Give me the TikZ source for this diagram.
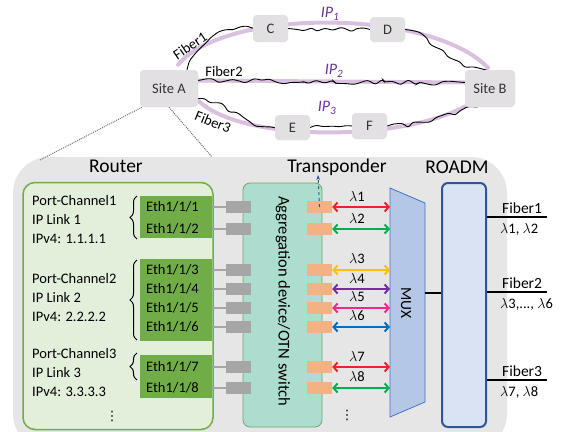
\documentclass[tikz,border=0pt]{standalone}
\usepackage{fontspec}
\setmainfont{Carlito}
\newfontfamily\symfont{DejaVu Sans}
\usetikzlibrary{arrows.meta,decorations.pathmorphing,decorations.pathreplacing}
\definecolor{bggray}{RGB}{231,230,231}
\definecolor{sitegray}{RGB}{226,224,226}
\definecolor{iplav}{RGB}{216,192,222}
\definecolor{ippurple}{RGB}{112,48,160}
\definecolor{rtfill}{RGB}{226,239,218}
\definecolor{rtgreen}{RGB}{112,173,71}
\definecolor{aggfill}{RGB}{172,221,206}
\definecolor{aggline}{RGB}{112,168,100}
\definecolor{portgray}{RGB}{166,166,166}
\definecolor{trorange}{RGB}{244,177,131}
\definecolor{muxfill}{RGB}{180,199,231}
\definecolor{muxline}{RGB}{68,114,196}
\definecolor{rdfill}{RGB}{218,227,243}
\definecolor{rdline}{RGB}{47,85,151}
\definecolor{lred}{RGB}{238,34,40}
\definecolor{lgreen}{RGB}{0,176,80}
\definecolor{lyellow}{RGB}{255,192,0}
\definecolor{lpurple}{RGB}{112,48,160}
\definecolor{lpink}{RGB}{240,40,140}
\definecolor{lblue}{RGB}{0,112,192}
\begin{document}
\begin{tikzpicture}[x=1pt,y=-1pt,
  txt/.style={font=\fontsize{14.5}{19}\selectfont},
  head/.style={font=\fontsize{19.5}{22}\selectfont},
  site/.style={fill=sitegray,rounded corners=4pt,text=black!80,font=\fontsize{14.5}{17}\selectfont},
  fib/.style={draw=black,line width=0.9pt,decorate,decoration={random steps,segment length=7pt,amplitude=3pt},rounded corners=2.5pt},
  iplink/.style={draw=iplav,line width=4pt,line cap=round},
  iplbl/.style={text=ippurple,font=\fontsize{16}{18}\selectfont\itshape},
  ethbox/.style={fill=rtgreen,minimum width=72pt},
  port/.style={fill=portgray,minimum width=25pt,minimum height=12pt},
  portline/.style={draw=portgray,line width=2pt},
  trx/.style={fill=trorange,minimum width=25pt,minimum height=12pt},
  lam/.style={line width=2pt,{Straight Barb[length=4pt,width=9pt]}-{Straight Barb[length=4pt,width=9pt]}},
  pcbrace/.style={decorate,decoration={brace,amplitude=7pt},line width=1pt},
  vdot/.style={font=\symfont\fontsize{13}{14}\selectfont}]
\tikzstyle{every node}+=[inner sep=0pt]
\pgfmathsetseed{11}
\useasboundingbox (0,0) rectangle (564,431);
\clip (0,0) rectangle (564,431);

\node[site,minimum width=58pt,minimum height=37pt] (siteA) at (169,88.5) {Site A};
\node[site,minimum width=50pt,minimum height=37pt] (siteB) at (490,88.5) {Site B};
\path[iplink] ([shift={(9pt,5pt)}]siteA.north) .. controls (225,8) and (430,8) .. ([shift={(-2pt,2pt)}]siteB.north);
\path[iplink] ([yshift=8pt]siteA.east) -- ([yshift=6pt]siteB.west);
\path[iplink] ([yshift=-12pt]siteA.east) .. controls (240,142) and (400,142) .. ([yshift=-18pt]siteB.west);
\node[site,minimum width=35pt,minimum height=27pt] (C) at (270.5,28.5) {C};
\node[site,minimum width=35pt,minimum height=25pt] (D) at (387.5,29.5) {D};
\node[site,minimum width=35pt,minimum height=25pt] (E) at (292.5,127.5) {E};
\node[site,minimum width=35pt,minimum height=26pt] (F) at (369.5,126) {F};
\draw[fib] ([xshift=18pt]siteA.north) .. controls (195,40) and (225,28) .. (C.west);
\draw[fib] (C.east) -- (D.west);
\draw[fib] (D.east) .. controls (435,35) and (440,65) .. ([xshift=-3pt]siteB.north);
\draw[fib] ([yshift=8pt]siteA.east) -- ([yshift=6pt]siteB.west);
\draw[fib] ([yshift=-10pt]siteA.east) .. controls (230,105) and (250,127) .. (E.west);
\draw[fib] (E.east) -- (F.west);
\draw[fib] (F.east) .. controls (420,127) and (450,112) .. ([xshift=-12pt]siteB.south);
\node[site,minimum width=58pt,minimum height=37pt] at (siteA) {Site A};
\node[site,minimum width=50pt,minimum height=37pt] at (siteB) {Site B};
\node[site,minimum width=35pt,minimum height=27pt] at (C) {C};
\node[site,minimum width=35pt,minimum height=25pt] at (D) {D};
\node[site,minimum width=35pt,minimum height=25pt] at (E) {E};
\node[site,minimum width=35pt,minimum height=26pt] at (F) {F};
\node[iplbl] (ip1) at (330,14) {IP\textsubscript{1}};
\node[iplbl] (ip2) at (334,71) {IP\textsubscript{2}};
\node[iplbl] (ip3) at (327,108) {IP\textsubscript{3}};
\node[txt,rotate=34] (fb1) at (190,46) {Fiber1};
\node[txt] (fb2) at (224,72) {Fiber2};
\node[txt,rotate=-22] (fb3) at (213,122) {Fiber3};

\fill[bggray,rounded corners=36pt] (13,450) -- (13,157) -- (507,157) -- (507,450) -- cycle;
\coordinate (dA) at (40,160);
\coordinate (dB) at (212,157);
\draw[densely dotted,black!55,line width=1pt] ([xshift=-27pt]siteA.south) -- (dA);
\draw[densely dotted,black!55,line width=1pt] (siteA.south) -- (dB);

\node[head] (rtlbl) at (116,166) {Router};
\node[head] (tplbl) at (337,167) {Transponder};
\node[head] (rdlbl) at (457,167) {ROADM};
\node[draw=rtgreen,fill=rtfill,line width=1.5pt,rounded corners=12pt,minimum width=190pt,minimum height=247pt] (router) at (118,306) {};
\node[ethbox,minimum height=42pt] (ethA) at (176,217) {};
\node[ethbox,minimum height=82pt] (ethB) at (176,300) {};
\node[ethbox,minimum height=43pt] (ethC) at (176,376.5) {};
\node[txt,anchor=west,align=left] (pc1) at (32,220) {Port-Channel1\\IP Link 1\\IPv4: 1.1.1.1};
\node[txt,anchor=west,align=left] (pc2) at (32,298) {Port-Channel2\\IP Link 2\\IPv4: 2.2.2.2};
\node[txt,anchor=west,align=left] (pc3) at (32,373) {Port-Channel3\\IP Link 3\\IPv4: 3.3.3.3};
\draw[pcbrace] (137,239) -- (137,196);
\draw[pcbrace] (137,340) -- (137,260);
\draw[pcbrace] (137,380) -- (137,353);
\node[vdot] (dots1) at (112,416) {⋮};

\node[draw=aggline,fill=aggfill,line width=0.8pt,rounded corners=7pt,minimum width=79pt,minimum height=244pt] (agg) at (282.5,305) {};
\node[rotate=-90,font=\fontsize{16.5}{18}\selectfont] (aggtxt) at (283,301) {Aggregation device/OTN switch};
\draw[fill=muxfill,draw=muxline,line width=0.8pt] (390,188) coordinate (muxA) -- (425,203) -- (425,402) -- (390,417) -- cycle;
\node[rotate=-90,font=\fontsize{15.5}{17}\selectfont] (muxtxt) at (406,303) {MUX};

\foreach \i/\y/\e/\c in {1/207/ethA/lred,2/229/ethA/lgreen,3/270/ethB/lyellow,4/289/ethB/lpurple,
  5/308/ethB/lpink,6/327/ethB/lblue,7/367/ethC/lred,8/388/ethC/lgreen}{
  \node[txt,anchor=west] (eth\i) at (146,\y) {Eth1/1/\i};
  \node[port] (g\i) at (238.5,\y) {};
  \draw[portline] (\e.east |- g\i) -- (g\i.west);
  \node[trx] (o\i) at (319.5,\y) {};
  \draw[lam,\c] (o\i.east) -- (o\i.east -| muxA);
  \node[txt] (l\i) at (357,\y-11) {$\lambda$\i};
}
\coordinate (tpin) at (318,175);
\draw[rdline,dashed,line width=1pt,-{Stealth[length=5pt]}] (o1.center) -- (tpin);
\node[vdot] (dots2) at (347,415) {⋮};

\node[draw=rdline,fill=rdfill,line width=2pt,rounded corners=6pt,minimum width=44pt,minimum height=244pt] (roadm) at (464,305) {};
\coordinate (muxout) at (425,293);
\draw[line width=1.8pt] (muxout) -- (muxout -| roadm.west);
\foreach \j/\y/\w in {1/217/{$\lambda$1, $\lambda$2},2/292/{$\lambda$3,..., $\lambda$6},3/380/{$\lambda$7, $\lambda$8}}{
  \coordinate (fo\j) at (547,\y);
  \draw[line width=1.8pt] (fo\j -| roadm.east) -- (fo\j);
  \node[txt,anchor=west,font=\fontsize{15.5}{17}\selectfont] (fl\j) at (502,\y-9) {Fiber\j};
  \node[txt,anchor=west] (fw\j) at (500,\y+12) {\w};
}
\end{tikzpicture}
\end{document}
